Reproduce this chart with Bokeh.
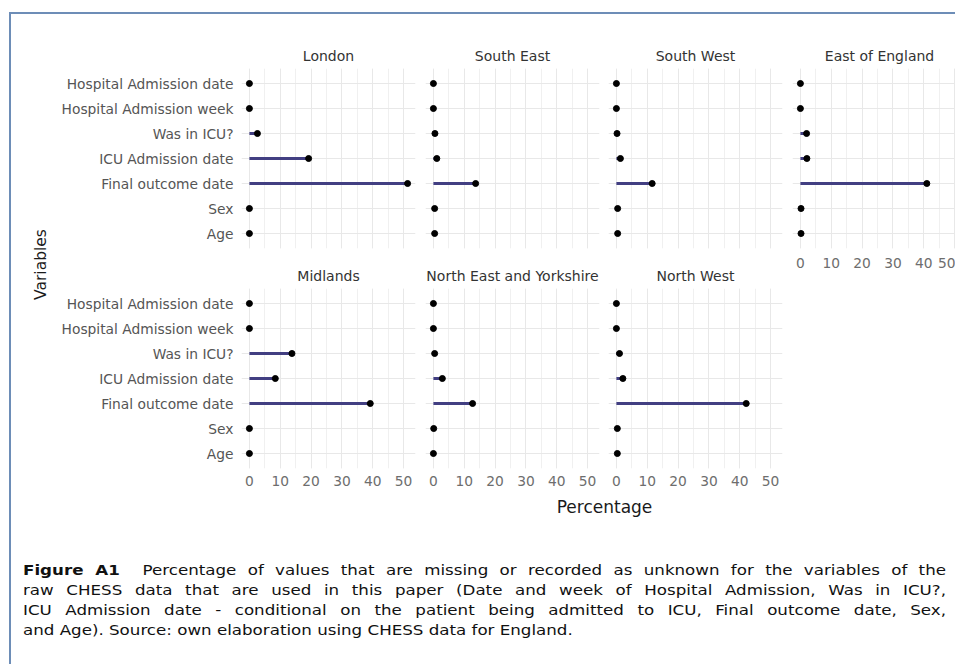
import math
from bokeh.plotting import figure
from bokeh.models import (FactorRange, Range1d, SingleIntervalTicker, Label, Div, Spacer,
                          ColumnDataSource)
from bokeh.layouts import row, column
from bokeh.embed import file_html
from bokeh.resources import INLINE

# ---------------- data (percent missing / unknown) ----------------
variables = ["Hospital Admission date", "Hospital Admission week", "Was in ICU?",
             "ICU Admission date", "Final outcome date", "Sex", "Age"]

london = [0, 0, 2.6, 19.2, 51.3, 0, 0]
south_east = [0, 0, 0.5, 1.1, 13.7, 0.4, 0.4]
south_west = [0, 0, 0.2, 1.3, 11.6, 0.4, 0.4]
east_of_england = [0, 0, 2.0, 2.1, 41.0, 0.2, 0.2]
midlands = [0, 0, 13.8, 8.4, 39.2, 0, 0]
north_east_yorkshire = [0, 0, 0.4, 2.9, 12.7, 0.1, 0]
north_west = [0, 0, 1.0, 2.1, 42.1, 0.3, 0.3]

x_ticks_interval = 10
x_axis_title = "Percentage"
y_axis_title = "Variables"
caption_lines = [
    "<b>Figure A1</b>&nbsp; Percentage of values that are missing or recorded as unknown for the variables of the",
    "raw CHESS data that are used in this paper (Date and week of Hospital Admission, Was in ICU?,",
    "ICU Admission date - conditional on the patient being admitted to ICU, Final outcome date, Sex,",
    "and Age). Source: own elaboration using CHESS data for England.",
]

# ---------------- styling ----------------
FONT = "DejaVu Sans"
SEG_COLOR = "#423f82"
GRID_MAJOR = "#e8e8e8"
GRID_MINOR = "#f0f0f0"
FRAME_COLOR = "#6d8db7"

all_vals = london + south_east + south_west + east_of_england + midlands + north_east_yorkshire + north_west
vmax = max(all_vals)
X_START = -0.05 * vmax
X_END = 1.05 * vmax
FRAME_W = 174
FRAME_H = 180


def text_fig(w, h, text, x, y, size, angle=0.0, color="#1a1a1a", left=0, right=0):
    f = figure(width=w, height=h, x_range=Range1d(0, 1), y_range=Range1d(0, 1),
               x_axis_location=None, y_axis_location=None, min_border=0,
               min_border_left=left, min_border_right=right,
               toolbar_location=None, output_backend="svg")
    f.outline_line_color = None
    f.grid.visible = False
    f.add_layout(Label(x=x, y=y, x_units="screen", y_units="screen", text=text, angle=angle,
                       text_align="center", text_baseline="middle", text_font=FONT,
                       text_font_size=size, text_color=color))
    return f


def panel(name, vals, left, right, bottom, strip_h, frame_w=FRAME_W, show_y=False,
          show_x=False, x_standoff=7):
    span = (X_END - X_START) * frame_w / FRAME_W
    width = left + frame_w + right
    p = figure(width=width, height=FRAME_H + bottom,
               x_range=Range1d(X_START, X_START + span),
               y_range=FactorRange(factors=list(reversed(variables)), range_padding=0.1,
                                   range_padding_units="absolute"),
               output_backend="svg", toolbar_location=None,
               min_border_left=left, min_border_right=right,
               min_border_top=0, min_border_bottom=bottom)
    p.outline_line_color = None
    p.background_fill_color = "white"
    p.border_fill_color = "white"

    ticker = SingleIntervalTicker(interval=x_ticks_interval, num_minor_ticks=2)
    p.xaxis.ticker = ticker
    p.xgrid.ticker = ticker
    p.xgrid.grid_line_color = GRID_MAJOR
    p.xgrid.grid_line_width = 1
    p.xgrid.minor_grid_line_color = GRID_MINOR
    p.xgrid.minor_grid_line_width = 1
    p.ygrid.grid_line_color = GRID_MAJOR
    p.ygrid.grid_line_width = 1

    for ax in (p.xaxis, p.yaxis):
        ax.axis_line_color = None
        ax.major_tick_line_color = None
        ax.minor_tick_line_color = None
        ax.major_tick_out = 0
        ax.minor_tick_out = 0
        ax.major_label_text_font = FONT
        ax.major_label_text_font_size = "13.8px"
    p.yaxis.major_label_text_color = "#555555"
    p.yaxis.major_label_standoff = 8
    p.xaxis.major_label_text_color = "#6e6e6e"
    p.xaxis.major_label_standoff = x_standoff
    p.yaxis.visible = show_y
    p.xaxis.visible = show_x

    src = ColumnDataSource(dict(var=variables, val=vals, zero=[0] * len(vals)))
    p.segment(x0="zero", y0="var", x1="val", y1="var", source=src,
              line_color=SEG_COLOR, line_width=3)
    p.scatter(x="val", y="var", source=src, size=6, fill_color="black", line_color="black")

    strip = text_fig(width, strip_h, name, FRAME_W / 2, 13, "14px", color="#333333",
                     left=left, right=right)
    return [strip, p]


# columns of facets (strip above each panel)
col1 = column(*panel("London", london, 189, 5, 8, 54, show_y=True),
              *panel("Midlands", midlands, 189, 5, 25, 32, show_y=True, show_x=True))
col2 = column(*panel("South East", south_east, 5, 4, 8, 54),
              *panel("North East and Yorkshire", north_east_yorkshire, 5, 4, 25, 32, show_x=True))
col3 = column(*panel("South West", south_west, 5, 5, 8, 54),
              *panel("North West", north_west, 5, 5, 25, 32, show_x=True))
col4 = column(*panel("East of England", east_of_england, 5, 0, 40, 54, frame_w=163,
                     show_x=True, x_standoff=9))

ROW_H = 54 + FRAME_H + 8 + 32 + FRAME_H + 25
var_fig = text_fig(41, ROW_H, y_axis_title, 29, ROW_H - 250, "15.5px", angle=math.pi / 2)
pct_fig = text_fig(944, 29, x_axis_title, 593, 16, "17px")

SCALE = 1.15
line_w = 923 / SCALE
line_css = ("font-family:'DejaVu Sans';font-size:14.5px;line-height:20px;height:20px;"
            "color:#111;white-space:nowrap;width:%.1fpx;" % line_w)
cap_html = ('<div style="padding-left:7px;padding-top:33px;">'
            '<div style="transform:scaleX(%.3f);transform-origin:0 0;">' % SCALE)
for i, ln in enumerate(caption_lines):
    just = "text-align:justify;text-align-last:justify;" if i < len(caption_lines) - 1 else ""
    cap_html += '<div style="' + line_css + just + '">' + ln + '</div>'
cap_html += '</div></div>'
cap = Div(text=cap_html, width=944, height=664 - 14 - ROW_H - 29)

panels = row(var_fig, col1, col2, col3, col4)
content = column(panels, pct_fig, cap)

line_style = {"background-color": FRAME_COLOR}
layout = column(
    Spacer(width=955, height=12),
    row(Spacer(width=9, height=2), Spacer(width=946, height=2, styles=line_style)),
    row(Spacer(width=9, height=650), Spacer(width=2, height=650, styles=line_style), content),
)

open("out.html", "w").write(file_html(layout, INLINE))
